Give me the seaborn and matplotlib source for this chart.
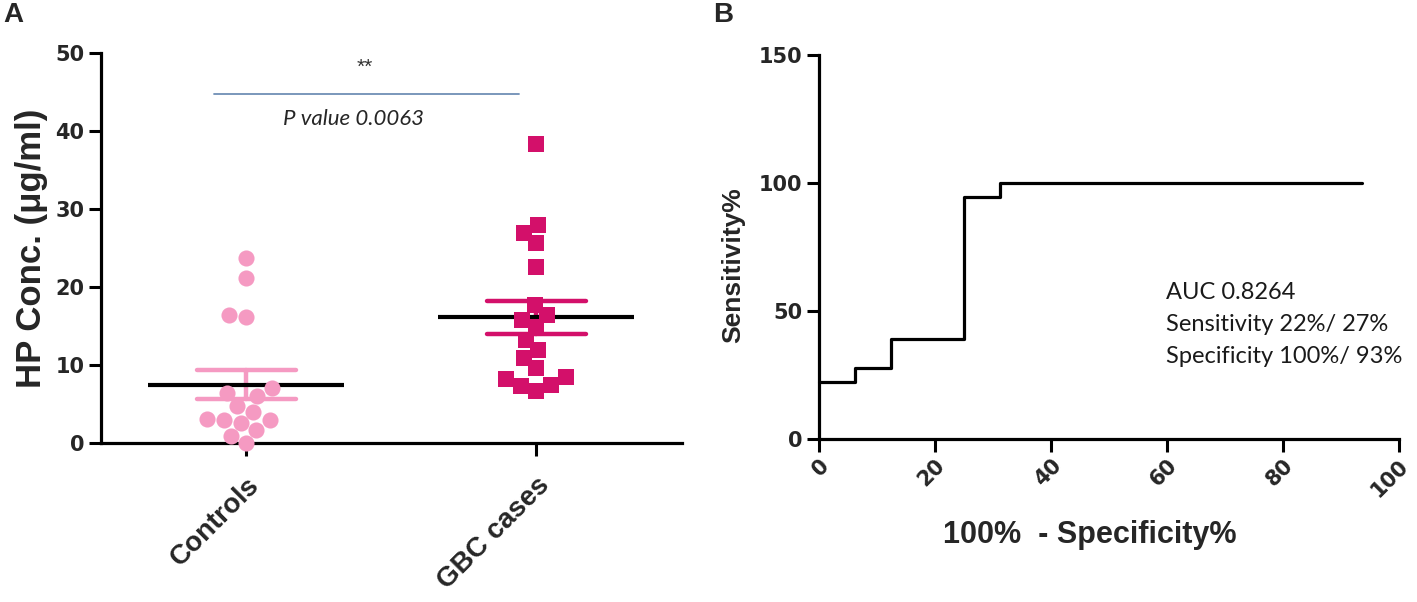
import pandas as pd
import matplotlib
matplotlib.use('Agg')
import matplotlib.pyplot as plt
import seaborn as sns

# panel A data (HP concentration, ug/ml)
grupos = ['Controls', 'GBC cases']
controls = [23.7, 21.2, 16.4, 16.1, 7.0, 6.4, 6.0, 4.7, 4.0, 3.1, 2.9, 2.9, 2.6, 1.7, 0.9, 0.0]
gbc = [38.3, 28.0, 26.9, 25.6, 22.6, 17.7, 16.4, 15.8, 14.9, 13.2, 11.9, 10.9, 9.6, 8.5, 8.2, 7.5, 7.3, 6.7]
cores = {'Controls': '#F59AC2', 'GBC cases': '#D3106A'}

# panel B data (ROC)
fpr = [0, 6.25, 12.5, 25, 31.25, 93.75]
tpr = [22.22, 27.78, 38.89, 94.44, 100, 100]
auc_txt = ['AUC 0.8264', 'Sensitivity 22%/ 27%', 'Specificity 100%/ 93%']

df = pd.DataFrame({
    'grupo': ['Controls'] * len(controls) + ['GBC cases'] * len(gbc),
    'conc': controls + gbc,
})

sns.set_style('ticks')
plt.rcParams['font.family'] = ['Liberation Sans', 'DejaVu Sans']

fig = plt.figure(figsize=(14.17, 6.02), dpi=100)
ax1 = fig.add_axes([0.0713, 0.264, 0.4097, 0.648])
ax2 = fig.add_axes([0.578, 0.271, 0.409, 0.638])

# A
sns.swarmplot(data=df[df.grupo == 'Controls'], x='grupo', y='conc', order=grupos,
              color=cores['Controls'], marker='o', size=11.6, linewidth=0, ax=ax1)
sns.swarmplot(data=df[df.grupo == 'GBC cases'], x='grupo', y='conc', order=grupos,
              color=cores['GBC cases'], marker='s', size=11.2, linewidth=0, ax=ax1)
for c in ax1.collections:
    c.set_clip_on(False)

sns.pointplot(data=df, x='grupo', y='conc', order=grupos, hue='grupo', palette=cores,
              errorbar='se', capsize=0.34, linestyle='none', marker='',
              err_kws={'linewidth': 3.2}, legend=False, ax=ax1)
sns.pointplot(data=df, x='grupo', y='conc', order=grupos, color='black',
              errorbar=None, linestyle='none', marker='_', markersize=141,
              markeredgewidth=3, ax=ax1)

ax1.set_xlim(-0.5, 1.5)
ax1.set_ylim(0, 50)
ax1.set_yticks([0, 10, 20, 30, 40, 50])
ax1.set_xlabel('')
ax1.set_ylabel('HP Conc. (\u03bcg/ml)', fontsize=25, fontweight='bold')
ax1.yaxis.set_label_coords(-0.092, 0.5)
ax1.set_xticks([0, 1])
ax1.set_xticklabels(grupos, rotation=45, ha='right', rotation_mode='anchor',
                    fontsize=20, fontweight='bold')
for t in ax1.get_yticklabels():
    t.set_fontfamily('DejaVu Sans')
    t.set_fontweight('bold')
    t.set_fontsize(15)

ax1.plot([-0.11, 0.94], [44.7, 44.7], color='#6F8FB5', lw=1.3, clip_on=False)
ax1.text(0.41, 48.2, '**', ha='center', va='center', fontsize=15, color='#333333')
ax1.text(0.37, 41.5, 'P value 0.0063', ha='center', va='center', fontsize=16,
         style='italic', family=['Lato', 'DejaVu Sans'])

# B
sns.lineplot(x=fpr, y=tpr, drawstyle='steps-post', color='black', lw=2.3,
             estimator=None, ax=ax2)
ax2.lines[0].set_clip_on(False)
ax2.set_xlim(0, 100)
ax2.set_ylim(0, 150)
ax2.set_xticks(range(0, 101, 20))
ax2.set_yticks([0, 50, 100, 150])
ax2.set_xlabel('100%  - Specificity%', fontsize=22, fontweight='bold')
ax2.xaxis.set_label_coords(0.467, -0.211)
ax2.set_ylabel('Sensitivity%', fontsize=19, fontweight='bold')
ax2.yaxis.set_label_coords(-0.128, 0.453)
for t in ax2.get_xticklabels():
    t.set_rotation(45)
    t.set_ha('right')
    t.set_rotation_mode('anchor')
for t in ax2.get_xticklabels() + ax2.get_yticklabels():
    t.set_fontfamily('DejaVu Sans')
    t.set_fontweight('bold')
    t.set_fontsize(15)
for i, linha in enumerate(auc_txt):
    ax2.text(59.8, 57 - 12.5 * i, linha, ha='left', va='center', fontsize=17,
             family=['Lato', 'DejaVu Sans'], color='#1a1a1a')

for ax in (ax1, ax2):
    sns.despine(ax=ax)
    for s in ('left', 'bottom'):
        ax.spines[s].set_linewidth(2.3)
        ax.spines[s].set_color('black')
    ax.tick_params(width=2.2, length=9, color='black', pad=3)
ax1.tick_params(axis='x', pad=12)

fig.text(0.002, 0.975, 'A', fontsize=20, fontweight='bold', va='center')
fig.text(0.503, 0.975, 'B', fontsize=20, fontweight='bold', va='center')

fig.savefig('out.png', dpi=100)
